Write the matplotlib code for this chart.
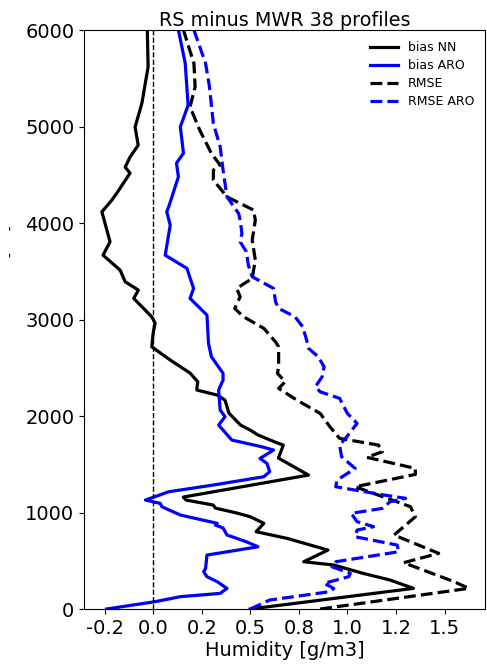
#!/usr/bin/env python3
"""
RS minus MWR humidity profiles: bias and RMSE for NN and AROME.
"""

import matplotlib
matplotlib.use('Agg')
import matplotlib.pyplot as plt
from matplotlib.ticker import FormatStrFormatter

# Bias NN (solid black)
h_bias_nn = [0, 214, 300, 370, 456, 490, 611, 645, 732, 801, 888, 956, 995, 1046,
             1077, 1129, 1160, 1388, 1564, 1699, 1720, 1803, 1854, 1906, 2030, 2165,
             2217, 2269, 2290, 2355, 2445, 2580, 2717, 2859, 2963, 3028, 3219, 3305,
             3391, 3512, 3667, 3805, 4116, 4237, 4310, 4517, 4579, 4683, 4807, 4994,
             5242, 5618, 6000]
bias_nn = [0.50, 1.34, 1.22, 1.08, 0.93, 0.775, 0.90, 0.84, 0.69, 0.53, 0.57, 0.50, 0.43, 0.32,
           0.31, 0.17, 0.155, 0.80, 0.645, 0.67, 0.64, 0.54, 0.50, 0.45, 0.39, 0.37,
           0.33, 0.225, 0.225, 0.23, 0.19, 0.088, -0.007, 0.0, 0.01, -0.007, -0.10, -0.076,
           -0.144, -0.17, -0.258, -0.222, -0.264, -0.213, -0.187, -0.119, -0.144, -0.119, -0.077, -0.093,
           -0.058, -0.026, -0.03]

# Bias AROME (solid blue)
h_bias_aro = [0, 76, 128, 162, 214, 283, 335, 387, 421, 559, 645, 697, 767, 840,
              870, 888, 974, 1060, 1095, 1129, 1215, 1285, 1371, 1423, 1509, 1561,
              1647, 1681, 1751, 1906, 1992, 2062, 2269, 2372, 2442, 2614, 2753, 3046,
              3219, 3322, 3530, 3667, 3978, 4116, 4168, 4479, 4620, 4723, 4997, 5221,
              5657, 6000]
bias_aro = [-0.24, 0.01, 0.14, 0.345, 0.38, 0.33, 0.277, 0.26, 0.27, 0.277, 0.54, 0.48, 0.38, 0.36,
            0.32, 0.33, 0.14, 0.045, 0.036, -0.04, 0.08, 0.31, 0.57, 0.60, 0.586, 0.55,
            0.62, 0.56, 0.405, 0.337, 0.37, 0.345, 0.337, 0.36, 0.36, 0.30, 0.285, 0.277,
            0.19, 0.208, 0.174, 0.062, 0.088, 0.07, 0.08, 0.13, 0.12, 0.156, 0.14, 0.18,
            0.165, 0.13]

# RMSE NN (dashed black)
h_rmse_nn = [0, 214, 283, 404, 480, 577, 767, 956, 1060, 1267, 1395, 1457, 1572, 1630,
             1699, 1768, 1889, 2027, 2165, 2286, 2355, 2442, 2510, 2717, 2769, 2908,
             3029, 3115, 3236, 3322, 3426, 3616, 3823, 4030, 4134, 4271, 4445, 4548,
             4600, 4721, 4962, 5204, 5411, 5653, 6000]
rmse_nn = [0.86, 1.625, 1.55, 1.39, 1.29, 1.47, 1.24, 1.35, 1.325, 1.04, 1.35, 1.35, 1.10, 1.18,
           1.16, 0.96, 0.91, 0.86, 0.74, 0.646, 0.68, 0.64, 0.646, 0.646, 0.63, 0.57,
           0.465, 0.42, 0.448, 0.43, 0.51, 0.526, 0.51, 0.526, 0.517, 0.38, 0.31, 0.31,
           0.345, 0.30, 0.24, 0.19, 0.216, 0.21, 0.156]

# RMSE AROME (dashed blue)
h_rmse_aro = [0, 93, 180, 214, 266, 335, 370, 438, 490, 594, 663, 749, 818, 853,
              905, 991, 1043, 1112, 1147, 1181, 1267, 1336, 1457, 1578, 1699, 1768,
              1924, 2027, 2183, 2251, 2303, 2407, 2510, 2614, 2701, 2787, 2925, 3029,
              3115, 3184, 3322, 3443, 3564, 3702, 3805, 3892, 4030, 4099, 4271, 4548,
              4790, 5031, 5411, 5653, 6000]
rmse_aro = [0.50, 0.60, 0.91, 0.93, 0.88, 1.007, 1.015, 0.92, 0.94, 1.265, 1.256, 1.04, 1.05, 1.135,
            1.05, 1.02, 1.18, 1.22, 1.30, 1.19, 0.94, 0.947, 1.04, 0.97, 0.96, 0.99,
            1.05, 1.00, 0.96, 0.86, 0.835, 0.87, 0.88, 0.85, 0.80, 0.79, 0.77, 0.73,
            0.646, 0.63, 0.62, 0.51, 0.49, 0.48, 0.448, 0.457, 0.448, 0.44, 0.38, 0.36,
            0.345, 0.31, 0.29, 0.27, 0.21]

x_ticks = [-0.25, 0.0, 0.25, 0.5, 0.75, 1.0, 1.25, 1.5]
y_ticks = [0, 1000, 2000, 3000, 4000, 5000, 6000]


def main():
    fig = plt.figure(figsize=(4.87, 6.64), dpi=100)
    ax = fig.add_axes([0.1725, 0.0828, 0.824, 0.872])

    lw = 2.3
    ax.plot(bias_nn, h_bias_nn, color='black', lw=lw, label='bias NN')
    ax.plot(bias_aro, h_bias_aro, color='blue', lw=lw, label='bias ARO')
    ax.plot(rmse_nn, h_rmse_nn, color='black', lw=lw, ls='--', label='RMSE')
    ax.plot(rmse_aro, h_rmse_aro, color='blue', lw=lw, ls='--', label='RMSE ARO')
    ax.axvline(0, color='black', lw=1.0, ls='--')

    ax.set_xlim(-0.356, 1.71)
    ax.set_ylim(0, 6000)
    ax.set_xticks(x_ticks)
    ax.set_yticks(y_ticks)
    ax.xaxis.set_major_formatter(FormatStrFormatter('%.1f'))
    ax.tick_params(labelsize=14)

    ax.set_title('RS minus MWR 38 profiles', fontsize=13.8, pad=3)
    ax.set_xlabel('Humidity [g/m3]', fontsize=14, labelpad=2)
    ax.set_ylabel('-     -', fontsize=10)
    ax.yaxis.set_label_coords(-0.165, 0.636)

    ax.legend(loc='upper right', frameon=False, fontsize=9,
              handlelength=2.2, labelspacing=0.4)

    fig.savefig('out.png', dpi=100)


if __name__ == '__main__':
    main()
